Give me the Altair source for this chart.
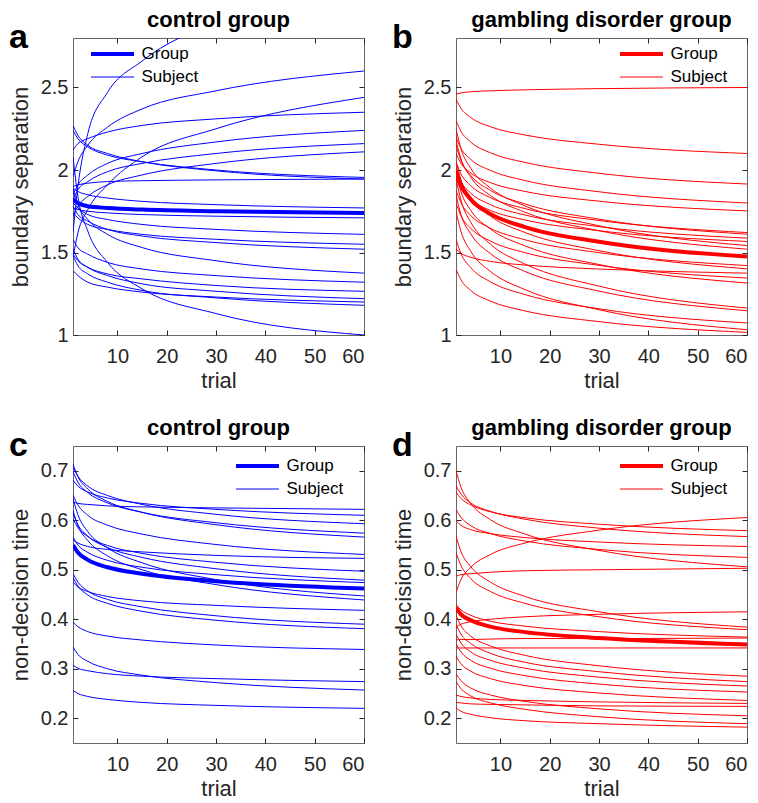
import altair as alt
import pandas as pd

FONT = "Liberation Sans"
TRIALS = [1, 2, 4, 8, 15, 30, 60]

# ---- panel a: control group, boundary separation ----
A_GROUP = [1.82, 1.80, 1.78, 1.77, 1.76, 1.75, 1.74]
A_SUBJECTS = [
    [1.62, 1.90, 2.22, 2.47, 2.66, 2.90, 3.12],
    [1.96, 2.05, 2.15, 2.26, 2.37, 2.48, 2.60],
    [1.47, 1.62, 1.76, 1.91, 2.08, 2.25, 2.44],
    [2.12, 2.16, 2.19, 2.23, 2.27, 2.31, 2.35],
    [1.85, 1.91, 1.97, 2.04, 2.10, 2.17, 2.24],
    [1.82, 1.88, 1.93, 1.99, 2.04, 2.10, 2.16],
    [1.72, 1.78, 1.84, 1.91, 1.97, 2.04, 2.11],
    [2.24, 2.19, 2.14, 2.09, 2.05, 2.00, 1.955],
    [2.27, 2.21, 2.15, 2.10, 2.05, 1.995, 1.945],
    [1.90, 1.91, 1.92, 1.93, 1.935, 1.94, 1.945],
    [1.89, 1.87, 1.85, 1.83, 1.81, 1.79, 1.77],
    [1.77, 1.76, 1.75, 1.74, 1.73, 1.72, 1.71],
    [1.80, 1.77, 1.73, 1.70, 1.67, 1.64, 1.61],
    [1.74, 1.71, 1.67, 1.64, 1.61, 1.58, 1.55],
    [1.78, 1.73, 1.69, 1.64, 1.60, 1.56, 1.52],
    [1.89, 1.79, 1.70, 1.61, 1.53, 1.45, 1.375],
    [1.58, 1.53, 1.49, 1.44, 1.40, 1.36, 1.32],
    [1.49, 1.45, 1.41, 1.37, 1.34, 1.30, 1.265],
    [1.52, 1.46, 1.41, 1.36, 1.31, 1.265, 1.22],
    [1.39, 1.36, 1.32, 1.29, 1.26, 1.23, 1.20],
    [1.48, 1.42, 1.37, 1.32, 1.27, 1.225, 1.18],
    [2.08, 1.84, 1.63, 1.44, 1.28, 1.13, 1.00],
]

# ---- panel b: gambling disorder group, boundary separation ----
B_GROUP = [2.00, 1.911, 1.822, 1.734, 1.654, 1.565, 1.476]
B_SUBJECTS = [
    [2.46, 2.467, 2.474, 2.48, 2.486, 2.493, 2.50],
    [2.43, 2.374, 2.318, 2.262, 2.212, 2.156, 2.10],
    [2.30, 2.235, 2.169, 2.104, 2.046, 1.980, 1.915],
    [2.20, 2.132, 2.064, 1.997, 1.936, 1.868, 1.80],
    [2.10, 2.041, 1.982, 1.923, 1.870, 1.811, 1.752],
    [2.05, 1.977, 1.905, 1.832, 1.766, 1.694, 1.621],
    [2.15, 2.059, 1.967, 1.876, 1.794, 1.702, 1.611],
    [2.00, 1.930, 1.860, 1.790, 1.727, 1.657, 1.587],
    [1.95, 1.885, 1.820, 1.755, 1.697, 1.632, 1.567],
    [2.25, 2.130, 2.010, 1.890, 1.782, 1.662, 1.542],
    [2.18, 2.068, 1.956, 1.845, 1.744, 1.632, 1.52],
    [1.88, 1.802, 1.724, 1.647, 1.577, 1.499, 1.421],
    [2.05, 1.940, 1.830, 1.720, 1.621, 1.511, 1.401],
    [1.52, 1.495, 1.471, 1.446, 1.424, 1.40, 1.375],
    [1.80, 1.723, 1.646, 1.569, 1.499, 1.422, 1.345],
    [1.98, 1.868, 1.755, 1.642, 1.540, 1.427, 1.315],
    [1.95, 1.817, 1.683, 1.550, 1.430, 1.296, 1.163],
    [1.85, 1.731, 1.612, 1.493, 1.385, 1.266, 1.147],
    [1.58, 1.494, 1.408, 1.322, 1.245, 1.159, 1.073],
    [1.75, 1.629, 1.507, 1.385, 1.275, 1.153, 1.032],
    [1.40, 1.335, 1.270, 1.205, 1.146, 1.081, 1.016],
]

# ---- panel c: control group, non-decision time ----
C_GROUP = [0.550, 0.535, 0.520, 0.505, 0.492, 0.477, 0.462]
C_SUBJECTS = [
    [0.637, 0.634, 0.632, 0.629, 0.627, 0.625, 0.622],
    [0.681, 0.669, 0.657, 0.645, 0.634, 0.622, 0.610],
    [0.708, 0.689, 0.669, 0.650, 0.632, 0.612, 0.593],
    [0.698, 0.677, 0.656, 0.635, 0.616, 0.595, 0.574],
    [0.713, 0.688, 0.663, 0.638, 0.616, 0.591, 0.566],
    [0.651, 0.631, 0.610, 0.590, 0.572, 0.551, 0.531],
    [0.560, 0.554, 0.547, 0.541, 0.536, 0.529, 0.523],
    [0.603, 0.585, 0.567, 0.549, 0.533, 0.515, 0.497],
    [0.614, 0.591, 0.568, 0.545, 0.525, 0.502, 0.479],
    [0.566, 0.550, 0.535, 0.519, 0.505, 0.490, 0.474],
    [0.644, 0.611, 0.577, 0.544, 0.514, 0.480, 0.447],
    [0.620, 0.589, 0.559, 0.528, 0.500, 0.470, 0.439],
    [0.475, 0.465, 0.456, 0.446, 0.437, 0.428, 0.418],
    [0.492, 0.475, 0.457, 0.440, 0.425, 0.407, 0.390],
    [0.484, 0.467, 0.449, 0.432, 0.416, 0.398, 0.381],
    [0.394, 0.385, 0.375, 0.366, 0.358, 0.348, 0.339],
    [0.307, 0.301, 0.296, 0.290, 0.285, 0.280, 0.274],
    [0.344, 0.329, 0.315, 0.300, 0.287, 0.272, 0.257],
    [0.256, 0.250, 0.244, 0.238, 0.232, 0.226, 0.220],
]

# ---- panel d: gambling disorder group, non-decision time ----
D_GROUP = [0.423, 0.410, 0.398, 0.385, 0.374, 0.362, 0.349]
D_SUBJECTS = [
    [0.454, 0.480, 0.505, 0.531, 0.554, 0.580, 0.6055],
    [0.657, 0.644, 0.631, 0.617, 0.605, 0.592, 0.579],
    [0.670, 0.653, 0.635, 0.618, 0.602, 0.584, 0.567],
    [0.599, 0.590, 0.581, 0.573, 0.565, 0.556, 0.547],
    [0.622, 0.606, 0.589, 0.573, 0.558, 0.541, 0.525],
    [0.700, 0.667, 0.634, 0.601, 0.572, 0.539, 0.506],
    [0.487, 0.490, 0.492, 0.495, 0.498, 0.500, 0.503],
    [0.385, 0.390, 0.395, 0.400, 0.405, 0.410, 0.415],
    [0.568, 0.537, 0.506, 0.475, 0.446, 0.415, 0.384],
    [0.535, 0.509, 0.482, 0.456, 0.432, 0.405, 0.379],
    [0.430, 0.419, 0.408, 0.396, 0.386, 0.375, 0.364],
    [0.358, 0.359, 0.359, 0.360, 0.361, 0.361, 0.362],
    [0.342, 0.342, 0.342, 0.342, 0.342, 0.342, 0.342],
    [0.408, 0.387, 0.366, 0.346, 0.327, 0.306, 0.285],
    [0.390, 0.370, 0.351, 0.331, 0.313, 0.294, 0.274],
    [0.370, 0.352, 0.334, 0.317, 0.301, 0.283, 0.265],
    [0.350, 0.334, 0.317, 0.301, 0.286, 0.269, 0.253],
    [0.325, 0.310, 0.295, 0.280, 0.266, 0.251, 0.236],
    [0.247, 0.244, 0.241, 0.238, 0.236, 0.233, 0.230],
    [0.232, 0.231, 0.229, 0.228, 0.227, 0.225, 0.224],
    [0.290, 0.276, 0.261, 0.247, 0.234, 0.219, 0.205],
    [0.274, 0.260, 0.245, 0.231, 0.218, 0.203, 0.189],
    [0.221, 0.214, 0.208, 0.201, 0.195, 0.189, 0.182],
]

X_TICKS = [10, 20, 30, 40, 50, 60]
KINDS = ["Group", "Subject"]

W, H = 291, 297


def frames(group, subjects, kf):
    rows = []
    for i, s in enumerate(subjects):
        for t, v in zip(TRIALS, s):
            rows.append({"curve": "s%02d" % i, kf: "Subject", "trial": t, "value": v})
    df_s = pd.DataFrame(rows)
    df_g = pd.DataFrame({"curve": "group", kf: "Group", "trial": TRIALS, "value": group})
    return df_s, df_g


def panel(group, subjects, color, title, ylab, ydom, yvals, yfmt, letter, lx, ly):
    kf = "kind_" + letter
    df_s, df_g = frames(group, subjects, kf)
    xs = alt.Scale(domain=[1, 60], nice=False, zero=False)
    ys = alt.Scale(domain=ydom, nice=False, zero=False)
    leg = alt.Legend(
        title=None, orient="none", legendX=lx, legendY=ly,
        symbolType="M-4.3,0H4.3", symbolSize=100, symbolStrokeColor=color,
        labelFontSize=17, labelFont=FONT,
        labelColor="black", labelOffset=20.5, rowPadding=5, padding=0,
    )
    sw = alt.StrokeWidth(kf + ":O", scale=alt.Scale(domain=KINDS, range=[4, 1]), legend=leg)
    x_main = alt.X("trial:Q", scale=xs, axis=alt.Axis(
        values=X_TICKS, title="trial", offset=-5, tickSize=5, domain=False,
        grid=False, labelPadding=11, titlePadding=4))
    y_main = alt.Y("value:Q", scale=ys, axis=alt.Axis(
        values=yvals, format=yfmt, title=ylab, offset=-5, tickSize=5,
        domain=False, grid=False, labelPadding=5, titlePadding=8))
    x_top = alt.X("trial:Q", scale=xs, axis=alt.Axis(
        orient="top", values=X_TICKS, labels=False, title=None, offset=-5,
        tickSize=5, domain=False, grid=False))
    y_right = alt.Y("value:Q", scale=ys, axis=alt.Axis(
        orient="right", values=yvals, labels=False, title=None, offset=-5,
        tickSize=5, domain=False, grid=False))

    subj = alt.Chart(df_s).mark_line(color=color, interpolate="monotone", clip=True).encode(
        x=x_main, y=y_main, detail="curve:N", strokeWidth=sw)
    grp = alt.Chart(df_g).mark_line(color=color, interpolate="monotone", clip=True).encode(
        x=x_top, y=y_right, strokeWidth=sw)
    let = alt.Chart(pd.DataFrame({"t": [letter]})).mark_text(
        align="left", baseline="alphabetic", fontSize=34, fontWeight="bold",
        font=FONT, color="black").encode(text="t:N", x=alt.value(-64), y=alt.value(10))
    return alt.layer(subj, grp, let).resolve_axis(x="independent", y="independent").properties(
        width=W, height=H,
        title=alt.TitleParams(title, fontSize=22, fontWeight="bold", font=FONT,
                              color="black", offset=-11))


pa = panel(A_GROUP, A_SUBJECTS, "#0000ff", "control group", "boundary separation",
           [1, 2.8], [1, 1.5, 2, 2.5], "~g", "a", 31, 7.5)
pb = panel(B_GROUP, B_SUBJECTS, "#ff0000", "gambling disorder group", "boundary separation",
           [1, 2.8], [1, 1.5, 2, 2.5], "~g", "b", 177, 7.5)
pc = panel(C_GROUP, C_SUBJECTS, "#0000ff", "control group", "non-decision time",
           [0.15, 0.75], [0.2, 0.3, 0.4, 0.5, 0.6, 0.7], ".1f", "c", 176, 11.5)
pd_ = panel(D_GROUP, D_SUBJECTS, "#ff0000", "gambling disorder group", "non-decision time",
            [0.15, 0.75], [0.2, 0.3, 0.4, 0.5, 0.6, 0.7], ".1f", "d", 177, 11.5)


def indep(c):
    return c.resolve_scale(strokeWidth="independent").resolve_legend(strokeWidth="independent")


top = indep(alt.hconcat(pa, pb, spacing=26))
bottom = indep(alt.hconcat(pc, pd_, spacing=26))

chart = indep(alt.vconcat(top, bottom, spacing=24)).properties(
    padding=0, background="white"
).configure_view(stroke="#666666", strokeWidth=1).configure_axis(
    labelFont=FONT, titleFont=FONT, labelFontSize=20, titleFontSize=22,
    labelColor="#262626", titleColor="#262626", tickColor="#262626",
    titleFontWeight="normal", tickWidth=1,
)

chart.save("out.html", embed_options={"renderer": "svg", "actions": False})
